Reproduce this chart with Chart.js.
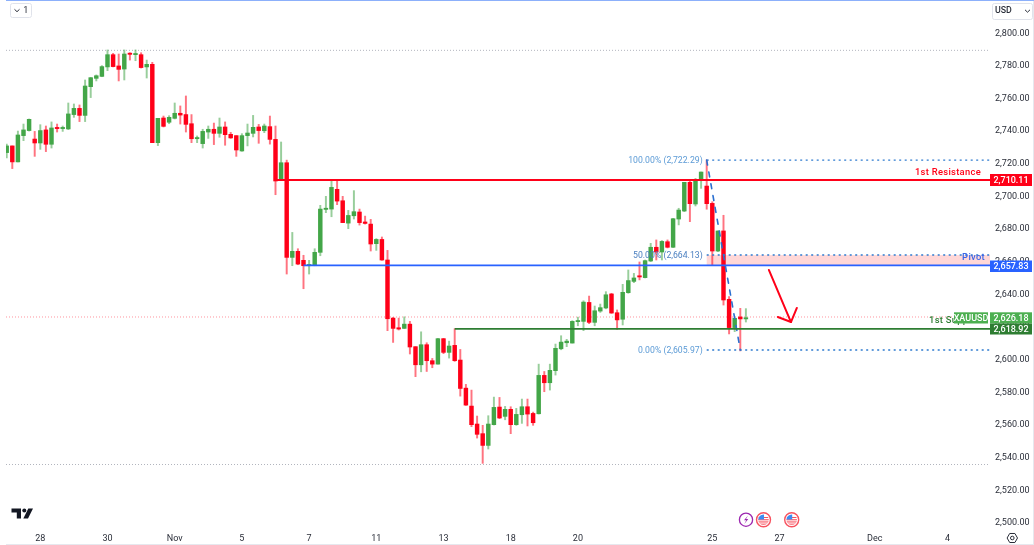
<!DOCTYPE html>
<html><head><meta charset="utf-8">
<style>html,body{margin:0;padding:0;background:#fff}#w{position:relative;width:1034px;height:545px}</style>
<script src="https://cdn.jsdelivr.net/npm/chart.js@4"></script>
</head><body><div id="w"><canvas id="c" width="1034" height="545"></canvas></div>
<script>
const opens=[2726.9,2731.0,2721.2,2737.3,2740.4,2735.2,2732.8,2740.8,2732.0,2741.8,2741.6,2741.4,2750.2,2754.0,2749.7,2767.3,2772.4,2773.6,2779.4,2786.9,2780.0,2778.1,2787.5,2786.9,2786.9,2779.4,2781.0,2733.0,2748.1,2745.5,2747.9,2751.0,2750.2,2744.6,2735.4,2732.4,2739.5,2741.2,2738.7,2742.6,2738.1,2737.3,2727.9,2737.3,2738.7,2742.6,
2740.3,2742.8,2735.0,2709.7,2720.7,2662.7,2666.4,2660.9,2657.6,2657.6,2665.8,2692.1,2692.3,2704.4,2697.4,2683.7,2688.2,2690.5,2684.4,2683.1,2671.1,2673.7,2661.1,
2625.5,2619.6,2619.2,2621.8,2608.0,2596.9,2609.2,2599.4,2597.3,2612.9,2604.5,2608.8,2599.8,2582.6,2571.6,2560.6,2554.7,2547.5,2560.2,2571.0,2565.3,2569.6,2560.2,2566.3,2571.2,2567.1,2566.9,2590.4,2585.9,2593.3,2606.7,2610.4,2610.2,2623.3,2623.5,2635.1,2622.9,2629.8,2631.7,
2640.3,2628.8,2624.8,2641.1,2648.0,2651.1,2650.3,2660.5,2668.9,2666.0,2672.3,2668.9,2686.2,2691.1,2708.7,2695.4,2710.1,2706.4,2695.8,2666.6,2678.9,2637.0,2619.7,2626.2,2625.0];
const highs=[2732.2,2731.0,2740.1,2744.4,2747.5,2739.9,2744.0,2743.2,2745.7,2744.4,2743.2,2757.3,2756.7,2756.1,2771.4,2773.0,2774.5,2780.2,2789.8,2787.7,2787.3,2789.8,2788.1,2789.8,2788.1,2783.6,2782.2,2747.9,2749.3,2749.5,2757.3,2755.5,2761.6,2750.2,2737.1,2741.2,2743.2,2745.0,2748.1,2745.7,2739.3,2737.3,2738.5,2744.4,2749.7,2744.2,
2744.4,2749.3,2743.2,2733.4,2722.3,2678.0,2668.0,2664.0,2660.9,2668.0,2694.6,2700.1,2709.5,2709.5,2700.1,2691.5,2703.6,2692.3,2688.0,2686.0,2674.2,2675.2,2667.0,
2625.9,2625.5,2626.3,2623.5,2608.0,2617.1,2610.4,2600.8,2613.1,2613.1,2611.4,2619.0,2606.3,2584.9,2581.4,2565.5,2559.8,2565.7,2577.1,2576.9,2571.4,2571.2,2570.2,2575.9,2575.9,2567.9,2597.3,2592.8,2597.3,2609.6,2614.7,2612.5,2623.9,2626.1,2636.1,2639.0,2632.9,2634.1,2641.7,
2640.7,2630.5,2646.2,2655.0,2652.9,2659.9,2661.1,2671.3,2673.4,2673.0,2673.4,2686.6,2692.8,2708.7,2710.1,2711.1,2715.0,2722.4,2696.8,2678.9,2688.5,2638.7,2625.4,2631.5,2631.3];
const lows=[2723.6,2717.1,2721.2,2734.2,2740.1,2724.6,2728.9,2727.5,2729.7,2739.5,2739.9,2741.0,2748.5,2745.9,2745.9,2760.6,2770.8,2773.4,2777.1,2779.4,2770.8,2771.4,2783.6,2783.2,2778.7,2772.6,2733.0,2731.2,2742.6,2744.6,2747.5,2744.4,2739.5,2733.0,2733.0,2729.7,2735.6,2731.8,2736.3,2731.4,2735.6,2724.6,2727.7,2731.0,2736.5,2732.6,
2739.1,2732.1,2701.1,2709.7,2652.5,2657.6,2658.2,2643.5,2652.5,2657.6,2663.7,2690.1,2687.6,2695.0,2684.0,2680.3,2686.2,2682.5,2683.1,2666.6,2667.0,2660.9,2617.8,
2610.6,2618.2,2619.0,2603.5,2589.6,2592.6,2592.8,2595.1,2597.3,2603.7,2601.0,2599.0,2577.7,2572.0,2559.0,2552.0,2536.5,2545.3,2560.0,2563.9,2563.2,2554.7,2559.8,2561.0,2559.4,2559.8,2566.7,2580.4,2581.4,2590.6,2606.1,2608.0,2610.2,2620.8,2617.8,2622.1,2620.8,2629.0,2631.2,
2628.4,2618.6,2621.3,2640.7,2647.2,2648.9,2650.1,2660.1,2661.1,2661.1,2668.5,2668.7,2682.6,2690.7,2684.6,2694.2,2705.0,2692.2,2658.0,2666.2,2633.5,2615.8,2617.2,2605.4,2623.1];
const closes=[2731.0,2721.2,2737.7,2740.8,2747.3,2732.8,2740.4,2732.0,2742.0,2741.6,2741.8,2750.6,2754.0,2749.7,2767.7,2772.8,2774.0,2779.6,2786.9,2779.6,2777.9,2787.3,2787.1,2787.3,2779.0,2781.0,2733.0,2747.9,2743.0,2748.5,2751.0,2749.9,2744.2,2735.4,2735.9,2739.9,2741.2,2738.7,2742.6,2737.9,2735.9,2728.5,2737.3,2738.9,2742.4,2740.4,
2743.2,2735.0,2709.5,2720.7,2662.7,2666.4,2658.6,2657.6,2657.8,2665.8,2692.3,2692.7,2705.6,2697.2,2684.0,2688.4,2690.7,2684.0,2683.5,2670.9,2673.7,2661.1,2625.1,
2619.2,2618.8,2621.8,2607.8,2596.9,2609.2,2599.4,2597.3,2612.9,2604.5,2608.4,2599.4,2582.4,2572.2,2560.2,2554.3,2547.5,2560.6,2570.8,2564.3,2569.6,2560.2,2566.5,2571.2,2566.7,2561.4,2590.4,2585.9,2593.5,2607.0,2610.8,2611.4,2623.5,2623.7,2635.3,2622.9,2630.0,2631.9,2639.8,
2628.6,2624.4,2641.3,2648.5,2650.1,2650.7,2660.7,2668.9,2666.0,2672.5,2668.9,2686.4,2691.7,2708.7,2695.6,2710.5,2715.0,2695.6,2666.6,2678.9,2636.6,2619.7,2625.4,2625.0,2625.6];
const xTickIndex=[6,18,30,42,54,66,78,90,102,126,138,155,168];
const xTickLabels=['28','30','Nov','5','7','11','13','18','20','25','27','Dec','4'];
const priceTicks=[2500,2520,2540,2560,2580,2600,2620,2640,2660,2680,2700,2720,2740,2760,2780,2800];
const resistance=2710.11, pivot=2657.83, support=2618.92, lastPrice=2626.18;
const fibHigh=2722.29, fibMid=2664.13, fibLow=2605.97;
const rangeTop=2789.56, rangeBottom=2535.8;
const arrowX=[136.1,140.05,137.7,141.1], arrowY=[2655.0,2623.1,2626.2,2631.7];

const XMIN=-0.125, XMAX=175.59;
const RED='#ff0018', GREEN='#43a648';
const FONT='Roboto, sans-serif';
const idx=opens.map((_,i)=>i);
const isUp=idx.map(i=>closes[i]>=opens[i]);
function hline(v,from,to,color,width,dash,order){return {type:'line',data:[{x:from,y:v},{x:to,y:v}],borderColor:color,borderWidth:width,borderDash:dash||[],pointRadius:0,order:order,tension:0};}
function seg(pts,color,width,dash,order){return {type:'line',data:pts,borderColor:color,borderWidth:width,borderDash:dash||[],pointRadius:0,order:order,tension:0,borderCapStyle:'round',borderJoinStyle:'round'};}
function noPad(s){s.paddingTop=0;s.paddingBottom=0;s.paddingLeft=0;s.paddingRight=0;}

const overlay={id:'overlay',
 beforeDatasetsDraw(ch){const c=ch.ctx,x=ch.scales.x,y=ch.scales.y;
  c.save();c.fillStyle='#ffd7d7';
  const x0=x.getPixelForValue(125),x1=x.getPixelForValue(XMAX),y0=y.getPixelForValue(fibMid),y1=y.getPixelForValue(pivot);
  c.fillRect(x0,y0,x1-x0,y1-y0);c.restore();},
 afterDraw(ch){const c=ch.ctx,x=ch.scales.x,y=ch.scales.y;
  c.save();
  c.textBaseline='middle';
  c.font='8.7px '+FONT;c.textAlign='right';
  const fx=x.getPixelForValue(125)-4;
  c.fillStyle='#5c9bd6';c.fillText('100.00% (2,722.29)',fx,y.getPixelForValue(fibHigh)+.5);
  c.fillText('0.00% (2,605.97)',fx,y.getPixelForValue(fibLow)+.5);
  c.fillStyle='#4a7fc0';c.fillText('50.00% (2,664.13)',fx,y.getPixelForValue(fibMid)+.5);
  c.font='500 9.4px '+FONT;
  c.letterSpacing='0.3px';
  c.fillStyle=RED;c.fillText('1st Resistance',981,172.5);
  c.fillStyle='#3a66e8';c.fillText('Pivot',985,257.5);
  c.textAlign='left';c.fillStyle='#2e7d32';c.fillText('1st Support',929,320.5);
  c.letterSpacing='0px';
  function tag(l,r,t,b,bg,txt){c.fillStyle=bg;c.fillRect(l,t,r-l,b-t);c.fillStyle='#fff';c.textAlign='center';c.fillText(txt,(l+r)/2,(t+b)/2+.5);}
  c.font='500 9px '+FONT;
  tag(954,988,312.3,323.5,'#4caf50','XAUUSD');
  tag(990,1032,174,186,RED,'2,710.11');
  tag(990,1032,260.5,272,'#2962ff','2,657.83');
  tag(990,1032,312.3,323.5,'#4caf50','2,626.18');
  tag(990,1032,323.5,334.5,'#2e7d32','2,618.92');
  c.fillStyle='#8cb0fb';c.fillRect(6,0,1028,1);
  c.fillStyle='#e6e8ee';c.fillRect(1033,1,1,544);c.fillRect(6,544,1028,1);
  function box(l,t,w,h){c.beginPath();c.roundRect(l+.5,t+.5,w,h,2);c.strokeStyle='#e0e3eb';c.lineWidth=1;c.stroke();}
  function chev(cx,cy){c.beginPath();c.moveTo(cx-2.5,cy-1.2);c.lineTo(cx,cy+1.2);c.lineTo(cx+2.5,cy-1.2);c.strokeStyle='#2a2e39';c.lineWidth=1;c.stroke();}
  box(10,3,21,14);chev(17,10.5);
  c.fillStyle='#2a2e39';c.textAlign='center';c.font='9px '+FONT;c.fillText('1',25.8,10.5);
  box(992,3,40,16);chev(1027.5,11);
  c.textAlign='left';c.fillStyle='#2a2e39';c.font='500 8.8px '+FONT;c.fillText('USD',995,11);
  c.fillStyle='#131722';
  c.beginPath();c.moveTo(11.5,508.5);c.lineTo(21,508.5);c.lineTo(21,518.5);c.lineTo(16.8,518.5);c.lineTo(16.8,512.6);c.lineTo(11.5,512.6);c.closePath();c.fill();
  c.beginPath();c.arc(24.3,510.5,2,0,7);c.fill();
  c.beginPath();c.moveTo(28.3,508.5);c.lineTo(33,508.5);c.lineTo(28,518.5);c.lineTo(23.3,518.5);c.closePath();c.fill();
  c.beginPath();c.arc(746,519.7,6.6,0,7);c.fillStyle='#fff';c.fill();c.strokeStyle='#9c27b0';c.lineWidth=1.3;c.stroke();
  c.beginPath();c.moveTo(748,515.5);c.lineTo(744,520.3);c.lineTo(746.3,520.3);c.lineTo(744.3,524);c.lineTo(748.3,519);c.lineTo(746,519);c.closePath();c.fillStyle='#9c27b0';c.fill();
  [763.5,791.7].forEach(cx=>{
   c.save();c.beginPath();c.arc(cx,519.7,7,0,7);c.fillStyle='#fff';c.fill();c.strokeStyle='#f7525f';c.lineWidth=1.4;c.stroke();
   c.beginPath();c.arc(cx,519.7,5.3,0,7);c.clip();
   c.fillStyle='#f7525f';for(let k=0;k<3;k++)c.fillRect(cx-6,520.2+k*2.2-1,12,1.1);
   c.fillRect(cx-6,517,12,1);
   c.fillStyle='#3d8bf0';c.fillRect(cx-6,514,6.5,5.5);
   c.restore();});
  c.beginPath();for(let k=0;k<6;k++){const a=k*Math.PI/3;const px=1012.3+5.2*Math.cos(a),py=538+5.2*Math.sin(a);k?c.lineTo(px,py):c.moveTo(px,py);}c.closePath();c.strokeStyle='#2a2e39';c.lineWidth=1;c.stroke();
  c.beginPath();c.arc(1012.3,538,1.8,0,7);c.stroke();
  c.restore();}
};

new Chart(document.getElementById('c'),{
 type:'bar',
 data:{datasets:[
  hline(rangeTop,XMIN,XMAX,'#b2b5be',1,[1,2],5),
  hline(rangeBottom,XMIN,XMAX,'#b2b5be',1,[1,2],5),
  hline(lastPrice,XMIN,XMAX,'rgba(255,60,80,0.55)',1,[1,2],5),
  {type:'bar',data:idx.map(i=>({x:i,y:[lows[i],highs[i]]})),backgroundColor:idx.map(i=>isUp[i]?'rgba(67,166,72,0.55)':'rgba(255,0,24,0.55)'),barThickness:1.3,grouped:false,order:3,borderWidth:0},
  {type:'bar',data:idx.map(i=>({x:i,y:[opens[i],closes[i]]})),backgroundColor:idx.map(i=>isUp[i]?GREEN:RED),barThickness:3.8,grouped:false,minBarLength:1.2,order:2,borderWidth:0},
  hline(resistance,48,XMAX,RED,1.9,[],1),
  hline(pivot,53,XMAX,'#2962ff',1.9,[],1),
  hline(support,80,XMAX,'#2e7d32',1.9,[],1),
  hline(fibHigh,125,XMAX,'#2f7bd0',1.4,[2,3.5],1),
  hline(fibMid,125,XMAX,'#2f7bd0',1.4,[2,3.5],1),
  hline(fibLow,125,XMAX,'#2f7bd0',1.4,[2,3.5],1),
  seg([{x:125,y:fibHigh},{x:131,y:fibLow}],'#2a6fd0',1.6,[5,7],1),
  seg([{x:arrowX[0],y:arrowY[0]},{x:arrowX[1],y:arrowY[1]}],RED,2,[],0),
  seg([{x:arrowX[2],y:arrowY[2]},{x:arrowX[1],y:arrowY[1]},{x:arrowX[3],y:arrowY[3]}],RED,2,[],0)
 ]},
 options:{responsive:false,animation:false,devicePixelRatio:1,
  layout:{padding:{left:6,right:0,top:0,bottom:0}},
  plugins:{legend:{display:false},tooltip:{enabled:false}},
  scales:{
   x:{type:'linear',offset:false,min:XMIN,max:XMAX,grid:{display:false,drawTicks:false},border:{display:false},
    afterBuildTicks(s){s.ticks=xTickIndex.map(v=>({value:v}));},
    afterFit(s){s.height=17;noPad(s);},
    ticks:{autoSkip:false,maxRotation:0,padding:5,color:'#2a2e39',
     font:{family:FONT,size:9},
     callback(v){const k=xTickIndex.indexOf(v);return k<0?'':xTickLabels[k];}}},
   y:{type:'linear',position:'right',min:2496.9,max:2820.4,grid:{display:false,drawTicks:false},border:{display:false},
    afterBuildTicks(s){s.ticks=priceTicks.map(v=>({value:v}));},
    afterFit(s){s.width=44;noPad(s);},
    ticks:{autoSkip:false,padding:5,crossAlign:'near',color:'#2a2e39',font:{family:FONT,size:9},
     callback(v){return v.toLocaleString('en-US',{minimumFractionDigits:2,maximumFractionDigits:2});}}}
  }},
 plugins:[overlay]
});
</script></body></html>
